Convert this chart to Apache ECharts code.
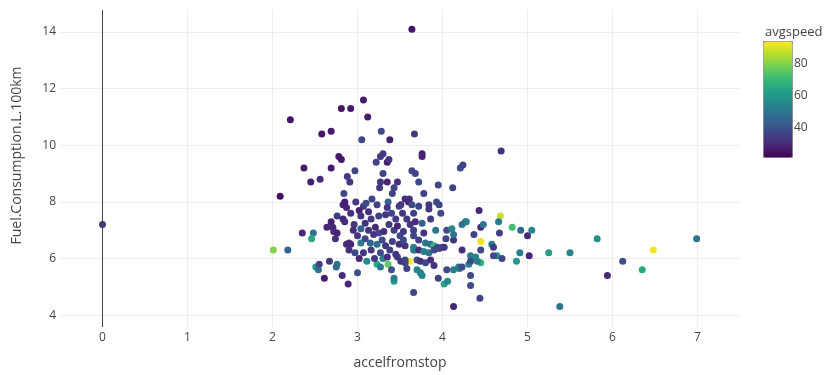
<!DOCTYPE html>
<html>
<head>
<meta charset="utf-8">
<script src="https://cdn.jsdelivr.net/npm/echarts@6/dist/echarts.min.js"></script>
<style>
html,body{margin:0;padding:0;background:#fff;}
#chart{width:826px;height:375px;}
</style>
</head>
<body>
<div id="chart"></div>
<script>
// accelfromstop values
const accel = [
0.00,3.64,3.07,2.81,2.92,2.21,3.12,2.58,2.69,3.28,3.05,3.38,3.67,2.78,2.81,2.37,2.69,2.45,2.56,2.09,
2.97,2.88,2.91,2.84,3.27,3.30,3.22,3.35,3.37,3.30,3.27,3.35,3.47,3.26,3.43,3.41,3.64,3.68,3.76,3.76,
3.72,3.78,3.95,4.12,4.21,4.24,4.69,3.36,3.56,3.61,3.93,3.51,3.84,
2.83,2.87,2.85,2.76,2.69,2.64,2.71,2.83,2.85,2.72,2.76,2.74,2.35,2.48,2.46,2.87,2.92,2.01,2.18,
2.51,2.54,2.55,2.61,2.67,2.76,2.75,2.82,2.89,3.00,3.11,3.23,3.27,3.36,3.30,3.40,3.43,3.43,3.66,
3.61,3.56,3.58,3.74,3.67,3.95,4.02,4.06,4.13,4.20,4.33,4.44,4.13,
2.98,3.07,3.23,3.17,3.35,3.49,3.60,2.92,3.02,3.04,3.13,3.16,3.25,3.33,3.45,3.58,3.66,2.96,3.04,
3.09,3.13,3.21,3.25,3.37,3.43,3.47,3.54,3.62,3.66,2.90,3.04,3.09,3.15,3.23,3.29,3.33,3.41,3.49,
3.54,3.56,3.66,3.02,3.07,3.47,3.51,3.56,
3.64,3.72,3.84,3.96,3.98,4.43,3.86,3.76,3.68,3.92,4.05,4.11,4.23,4.27,4.37,4.45,4.48,3.66,3.72,
3.78,3.80,3.86,3.90,3.94,4.00,4.04,4.13,4.13,3.66,3.72,3.78,3.84,3.90,3.96,4.02,4.23,4.33,4.39,
4.45,4.45,4.45,3.70,3.74,3.80,3.86,3.90,4.05,4.19,4.23,4.31,4.33,4.41,3.70,3.76,4.33,
4.68,4.66,4.82,4.92,5.05,5.00,4.67,4.58,4.60,4.64,4.60,4.70,4.91,4.87,5.02,5.25,5.50,5.82,6.99,
6.48,6.12,6.35,5.94,5.38,4.28,
2.90,2.97,3.16,3.27,3.38,3.45,3.19,3.31,3.50,3.00,2.95,3.40,3.10,3.53,3.20,3.35
];
// Fuel.Consumption.L.100km values
const fuel = [
7.2,14.1,11.6,11.3,11.3,10.9,11.0,10.4,10.5,10.5,10.2,10.2,10.4,9.6,9.5,9.2,9.2,8.7,8.8,8.2,
9.1,8.9,8.7,8.3,9.6,9.7,9.4,9.4,9.5,9.0,8.7,8.7,8.7,8.5,8.5,8.3,9.1,9.0,9.7,9.6,
8.7,8.3,8.6,8.5,9.2,9.3,9.8,8.0,8.1,8.1,8.0,7.9,7.9,
7.9,7.8,8.0,7.5,7.3,7.1,7.1,7.4,7.3,6.95,6.9,6.7,6.9,6.9,6.7,6.5,6.5,6.3,6.3,
5.7,5.6,5.8,5.3,5.9,5.8,5.7,5.4,5.1,5.5,5.9,5.8,5.7,5.8,6.0,5.6,5.2,5.3,4.8,
5.9,5.85,5.65,5.5,6.3,5.3,5.1,5.2,5.6,5.65,5.4,4.6,4.3,
8.0,7.85,7.9,8.1,7.8,7.85,8.0,7.6,7.7,7.5,7.65,7.4,7.5,7.55,7.4,7.4,7.6,7.2,7.05,
7.25,7.0,7.1,6.9,7.2,7.0,7.15,6.95,7.2,7.0,6.55,6.55,6.7,6.55,6.5,6.65,6.45,6.6,6.5,
6.65,6.45,6.4,6.0,6.2,6.05,5.9,5.95,
7.9,7.85,7.75,7.9,7.6,7.7,7.4,7.25,7.3,7.0,7.0,7.05,7.2,7.3,6.85,7.1,7.2,6.8,6.65,
6.9,6.55,6.5,6.45,6.4,6.4,6.7,6.65,6.85,6.3,6.3,6.25,6.2,6.3,6.35,6.4,6.3,6.1,6.05,
6.3,5.85,6.6,5.95,5.9,5.85,5.95,5.75,5.6,5.7,5.7,5.8,5.9,5.9,5.6,5.4,5.05,
7.5,7.3,7.1,7.0,7.0,6.8,6.9,6.5,6.4,6.1,6.1,6.0,6.2,5.9,6.1,6.2,6.2,6.7,6.7,
6.3,5.9,5.6,5.4,4.3,7.3,
6.3,6.2,6.3,6.2,6.3,6.15,6.85,6.95,6.8,6.8,7.0,7.6,7.95,7.6,6.0,6.05
];
// avgspeed values
const speed = [
34,26,27,26,27,26,27,26,27,38,37,28,34,27,26,27,27,28,31,25,
36,35,34,37,35,34,36,27,33,36,33,29,31,35,37,36,37,36,28,29,
38,36,37,36,38,37,32,45,31,33,37,32,34,
30,29,28,35,28,29,30,29,31,30,29,32,30,50,65,31,29,80,45,
60,48,36,28,34,52,47,31,30,40,56,66,52,76,54,40,62,52,37,
93,38,36,52,50,36,64,56,52,50,38,37,30,
34,33,36,37,33,35,30,32,29,33,32,34,36,33,35,34,36,34,44,
33,33,30,37,34,35,29,34,33,36,30,52,37,45,48,38,34,36,31,
38,33,55,30,33,35,33,37,
38,37,33,36,38,30,34,44,31,50,38,55,50,38,36,31,52,37,36,
33,50,48,70,38,32,37,32,50,52,32,53,50,38,37,34,31,52,55,
38,68,92,38,32,37,31,33,38,52,38,54,38,52,54,55,38,
88,52,72,46,55,30,36,52,35,58,38,37,52,60,30,62,55,58,50,
92,40,65,30,50,54,
32,37,34,38,36,33,33,31,37,33,31,36,38,33,34,31
];
const xTicks = [0,1,2,3,4,5,6,7];
const yTicks = [4,6,8,10,12,14];
const barTicks = [40,60,80];

const viridis = ['#440154','#482878','#3e4989','#31688e','#26828e','#1f9e89','#35b779','#6ece58','#b5de2b','#fde725'];
const font = '"Open Sans", "Liberation Sans", sans-serif';

const chart = echarts.init(document.getElementById('chart'), null, {renderer:'canvas'});
chart.setOption({
  animation: false,
  backgroundColor: '#fff',
  title: {
    text: 'avgspeed', left: 760, top: 21,
    textStyle: {fontFamily: font, fontSize: 13, fontWeight: 'normal', color: '#444'}
  },
  grid: [
    {left: 60, right: 86, top: 10, bottom: 48},
    {left: 763, top: 41, width: 29, height: 116}
  ],
  xAxis: [
    {
      type: 'value', gridIndex: 0, min: -0.5, max: 7.5,
      name: 'accelfromstop', nameLocation: 'middle', nameGap: 29,
      nameTextStyle: {fontFamily: font, fontSize: 14, color: '#444'},
      axisLine: {show: false},
      axisTick: {show: false, customValues: xTicks},
      axisLabel: {customValues: xTicks, fontFamily: font, fontSize: 12, color: '#444', margin: 5},
      splitLine: {show: true, lineStyle: {color: '#eee', width: 1}}
    },
    {type: 'value', gridIndex: 1, show: false, min: 0, max: 1}
  ],
  yAxis: [
    {
      type: 'value', gridIndex: 0, min: 3.58, max: 14.78,
      name: 'Fuel.Consumption.L.100km', nameLocation: 'middle', nameGap: 36,
      nameTextStyle: {fontFamily: font, fontSize: 14, color: '#444', padding: [0, 0, 0, 26]},
      axisLine: {show: false},
      axisTick: {show: false, customValues: yTicks},
      axisLabel: {customValues: yTicks, fontFamily: font, fontSize: 12, color: '#444', margin: 4},
      splitLine: {show: true, lineStyle: {color: '#eee', width: 1}}
    },
    {
      type: 'value', gridIndex: 1, min: 21.8, max: 93.8, position: 'right',
      axisLine: {show: false},
      splitLine: {show: false},
      axisTick: {show: true, customValues: barTicks, length: 3, lineStyle: {color: '#444'}},
      axisLabel: {customValues: barTicks, fontFamily: font, fontSize: 12, color: '#444', margin: 2}
    }
  ],
  visualMap: {
    type: 'continuous', seriesIndex: 1, dimension: 2,
    min: 21.8, max: 93.8, calculable: false, hoverLink: false,
    left: 763, top: 41, itemWidth: 29, itemHeight: 116,
    padding: 0, borderWidth: 1, borderColor: '#888', text: null,
    showLabel: false,
    inRange: {color: viridis}
  },
  series: [
    {
      type: 'scatter', xAxisIndex: 0, yAxisIndex: 0, data: [], z: 1, silent: true,
      markLine: {
        silent: true, symbol: ['none','none'], label: {show: false},
        lineStyle: {color: '#444', width: 1, type: 'solid'},
        data: [{xAxis: 0}]
      }
    },
    {
      type: 'scatter', xAxisIndex: 0, yAxisIndex: 0, z: 3,
      symbolSize: 7,
      itemStyle: {opacity: 1},
      data: accel.map((x, i) => [x, fuel[i], speed[i]])
    }
  ]
});
</script>
</body>
</html>
